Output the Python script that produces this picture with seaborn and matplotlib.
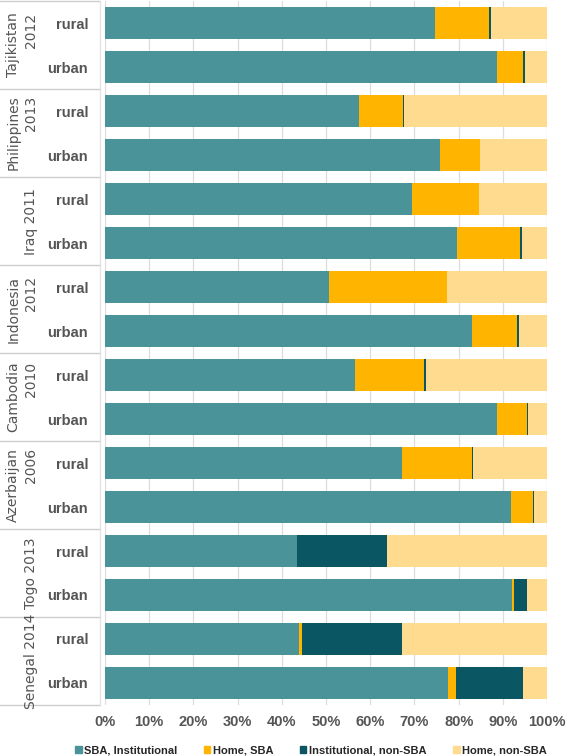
import numpy as np
import matplotlib
matplotlib.use("Agg")
import matplotlib.pyplot as plt
import seaborn as sns
import pandas as pd

countries = ["Tajikistan\n2012", "Philippines\n2013", "Iraq 2011", "Indonesia\n2012",
             "Cambodia\n2010", "Azerbaijan\n2006", "Togo 2013", "Senegal 2014"]
areas = ["rural", "urban"]

# one value per bar, order: country by country, rural then urban
sba_inst = [74.7, 88.7, 57.5, 75.7, 69.4, 79.6, 50.6, 83.0, 56.6, 88.6, 67.2, 91.9, 43.5, 92.1, 44.0, 77.6]
home_sba = [12.2, 5.8, 10.0, 9.1, 15.2, 14.3, 26.7, 10.2, 15.6, 6.9, 15.7, 4.9, 0.0, 0.5, 0.6, 1.8]
inst_non_sba = [0.4, 0.4, 0.2, 0.1, 0.1, 0.4, 0.1, 0.4, 0.3, 0.1, 0.4, 0.3, 20.2, 2.8, 22.6, 15.2]
home_non_sba = [12.7, 5.1, 32.3, 15.1, 15.3, 5.7, 22.6, 6.4, 27.5, 4.4, 16.7, 2.9, 36.3, 4.6, 32.8, 5.4]

series = ["SBA, Institutional", "Home, SBA", "Institutional, non-SBA", "Home, non-SBA"]
colors = ["#4a9499", "#ffb400", "#0b5663", "#ffdb8f"]

rows = [c.replace("\n", " ") + "|" + a for c in countries for a in areas]
df = pd.DataFrame({"row": rows,
                   series[0]: sba_inst, series[1]: home_sba,
                   series[2]: inst_non_sba, series[3]: home_non_sba})
cum = df[series].cumsum(axis=1)

sns.set_style("white")
plt.rcParams["font.family"] = ["Liberation Sans", "DejaVu Sans"]

fig = plt.figure(figsize=(5.67, 7.56), dpi=100)
ax = fig.add_axes([0.185, 0.0675, 0.78, 0.931])

# stacked bars: draw cumulative totals from the back
for s, col in reversed(list(zip(series, colors))):
    sns.barplot(x=cum[s], y=df["row"], orient="h", color=col, width=0.73,
                ax=ax, saturation=1, edgecolor="none", zorder=3)

ax.set_xlim(0, 100)
ax.set_xticks(np.arange(0, 101, 10))
ax.set_xticklabels([f"{v}%" for v in range(0, 101, 10)], color="#555555",
                   fontsize=10.5, fontweight="bold")
ax.set_yticks(range(len(rows)))
ax.set_yticklabels([r.split("|")[1] for r in rows], color="#555555",
                   fontsize=10.5, fontweight="bold")
ax.tick_params(axis="y", length=0, pad=12)
ax.tick_params(axis="x", length=0, pad=7)
ax.set_xlabel("")
ax.set_ylabel("")
ax.grid(axis="x", color="#dddddd", linewidth=0.9, zorder=0)
ax.set_axisbelow(True)
for sp in ax.spines.values():
    sp.set_visible(False)
ax.set_ylim(len(rows) - 0.5, -0.5)

# group labels and separators on the left
trans = matplotlib.transforms.blended_transform_factory(ax.transAxes, ax.transData)
for i, c in enumerate(countries):
    ax.text(-0.152, 2 * i + 0.5, c, rotation=90, ha="right", va="center",
            transform=trans, fontsize=10, color="#555555", linespacing=1.3,
            family="DejaVu Sans")
for b in np.arange(-0.5, len(rows), 2):
    ax.plot([-0.24, -0.01], [b, b], transform=trans, color="#cccccc",
            linewidth=1.0, clip_on=False)
ax.plot([-0.01, -0.01], [-0.5, len(rows) - 0.5], transform=trans,
        color="#e3e3e3", linewidth=1.0, clip_on=False)

handles = [matplotlib.patches.Patch(color=c, label=s) for s, c in zip(series, colors)]
fig.legend(handles=handles, loc="lower center", ncol=4, frameon=False,
           bbox_to_anchor=(0.548, -0.012), handlelength=0.6, handleheight=0.6,
           handletextpad=0.2, columnspacing=2.4,
           prop={"size": 8, "weight": "bold"})

fig.savefig("out.png", dpi=100)
